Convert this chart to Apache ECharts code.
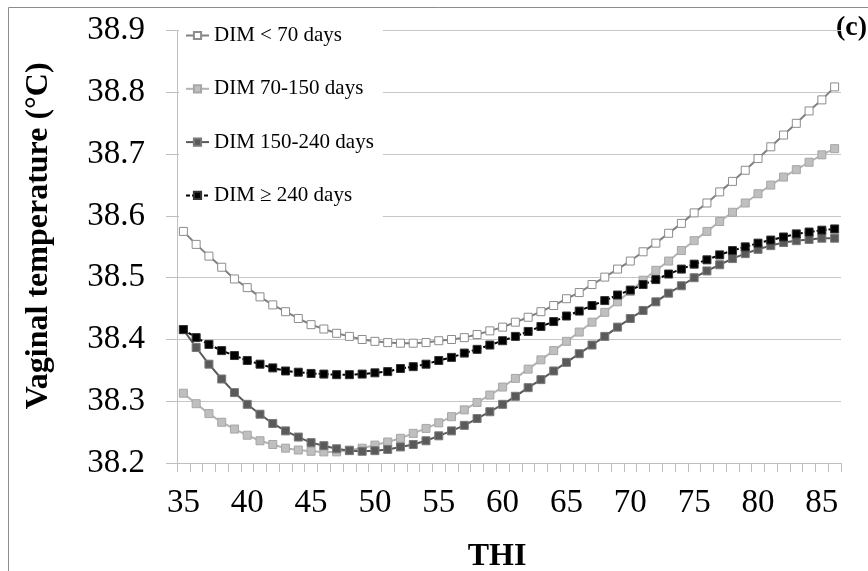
<!DOCTYPE html>
<html><head><meta charset="utf-8">
<script src="https://cdn.jsdelivr.net/npm/echarts@6/dist/echarts.min.js"></script>
<style>html,body{margin:0;padding:0;background:#fff}#c{width:868px;height:571px}</style>
</head><body><div id="c"></div><script>
const thi = ['35','36','37','38','39','40','41','42','43','44','45','46','47','48','49','50','51','52','53','54','55','56','57','58','59','60','61','62','63','64','65','66','67','68','69','70','71','72','73','74','75','76','77','78','79','80','81','82','83','84','85','86'];
const yTicks = [38.2, 38.3, 38.4, 38.5, 38.6, 38.7, 38.8, 38.9];
const seriesNames = ['DIM < 70 days', 'DIM 70-150 days', 'DIM 150-240 days', 'DIM \u2265 240 days'];
const dimLt70 = [38.575,38.554,38.535,38.517,38.498,38.484,38.469,38.456,38.445,38.434,38.424,38.417,38.410,38.405,38.400,38.397,38.395,38.394,38.394,38.395,38.398,38.400,38.403,38.408,38.414,38.420,38.428,38.436,38.445,38.455,38.466,38.476,38.489,38.501,38.514,38.527,38.542,38.556,38.572,38.588,38.605,38.621,38.639,38.656,38.674,38.693,38.712,38.731,38.750,38.770,38.788,38.809];
const dim70to150 = [38.313,38.296,38.280,38.266,38.255,38.245,38.236,38.230,38.224,38.221,38.219,38.218,38.218,38.221,38.224,38.229,38.234,38.240,38.248,38.256,38.265,38.275,38.286,38.298,38.310,38.323,38.337,38.352,38.367,38.382,38.397,38.412,38.428,38.444,38.461,38.478,38.496,38.512,38.527,38.544,38.560,38.575,38.591,38.606,38.621,38.636,38.650,38.663,38.675,38.687,38.699,38.709];
const dim150to240 = [38.416,38.387,38.360,38.336,38.314,38.295,38.279,38.264,38.252,38.242,38.233,38.228,38.223,38.220,38.219,38.220,38.222,38.226,38.230,38.236,38.244,38.252,38.261,38.272,38.283,38.295,38.308,38.322,38.335,38.349,38.363,38.377,38.391,38.405,38.420,38.434,38.447,38.461,38.475,38.487,38.500,38.511,38.521,38.531,38.539,38.546,38.552,38.557,38.560,38.562,38.564,38.564];
const dimGe240 = [38.416,38.403,38.392,38.382,38.374,38.366,38.360,38.354,38.349,38.347,38.345,38.344,38.343,38.343,38.344,38.346,38.348,38.353,38.356,38.360,38.366,38.371,38.378,38.384,38.391,38.398,38.405,38.413,38.421,38.429,38.438,38.446,38.455,38.463,38.472,38.480,38.489,38.497,38.506,38.514,38.522,38.529,38.537,38.544,38.550,38.556,38.561,38.566,38.571,38.574,38.577,38.579];

const FF = '"Liberation Serif", "Times New Roman", serif';
const chart = echarts.init(document.getElementById('c'), null, {renderer: 'canvas'});

function mk(name, data, lineColor, fill, border, dashed) {
  return {
    name: name, type: 'line', data: data,
    symbol: 'rect', symbolSize: 8, showSymbol: true, animation: false,
    lineStyle: {color: lineColor, width: 2, type: dashed ? [4, 2] : 'solid'},
    itemStyle: {color: fill, borderColor: border, borderWidth: 1},
    emphasis: {disabled: true}
  };
}

chart.setOption({
  animation: false,
  backgroundColor: '#fff',
  textStyle: {fontFamily: FF},
  grid: {left: 177, right: 27, top: 30.7, bottom: 108, containLabel: false, outerBoundsMode: 'none'},
  legend: {
    orient: 'vertical', left: 179, top: 20,
    padding: [5, 9, 14, 6],
    backgroundColor: '#fff',
    itemWidth: 23, itemHeight: 9, itemGap: 32.3,
    textStyle: {fontFamily: FF, fontSize: 21, color: '#000', lineHeight: 20, padding: [0,0,0,0]},
    data: seriesNames
  },
  xAxis: {
    type: 'category', data: thi, boundaryGap: true,
    axisLine: {show: true, lineStyle: {color: '#bfbfbf', width: 1}},
    axisTick: {show: true, interval: 0, length: 9, lineStyle: {color: '#bfbfbf'}},
    axisLabel: {interval: 4, fontSize: 33, color: '#000', margin: 24, fontFamily: FF},
    splitLine: {show: false},
    name: 'THI', nameLocation: 'middle', nameGap: 78,
    nameTextStyle: {fontFamily: FF, fontWeight: 'bold', fontSize: 32, color: '#000', padding: [0, 24, 0, 0]}
  },
  yAxis: {
    type: 'value', min: yTicks[0], max: yTicks[yTicks.length - 1], interval: 0.1,
    axisLine: {show: true, lineStyle: {color: '#bfbfbf', width: 1}},
    axisTick: {show: true, length: 11, lineStyle: {color: '#bfbfbf'}},
    axisLabel: {fontSize: 33, color: '#000', margin: 32, fontFamily: FF, formatter: v => v.toFixed(1)},
    splitLine: {show: true, lineStyle: {color: '#c6c6c6', width: 1}},
    name: 'Vaginal temperature (\u00b0C)', nameLocation: 'middle', nameGap: 122, nameRotate: 90,
    nameTextStyle: {fontFamily: FF, fontWeight: 'bold', fontSize: 32, color: '#000', padding: [0, 0, 0, 22]}
  },
  graphic: [
    {type: 'polyline', silent: true, shape: {points: [[8.5, 571], [8.5, 7.5], [868, 7.5]]}, style: {stroke: '#8c8c8c', lineWidth: 1, fill: null}},
    {type: 'text', left: 836, top: 14, silent: true, style: {text: '(c)', font: 'bold 28px ' + FF, fill: '#000'}}
  ],
  series: [
    mk(seriesNames[0], dimLt70, '#808080', '#ffffff', '#8c8c8c', false),
    mk(seriesNames[1], dim70to150, '#b3b3b3', '#bfbfbf', '#a6a6a6', false),
    mk(seriesNames[2], dim150to240, '#595959', '#5a5a5a', '#7a7a7a', false),
    mk(seriesNames[3], dimGe240, '#000000', '#000000', '#333333', true)
  ]
});
</script></body></html>
